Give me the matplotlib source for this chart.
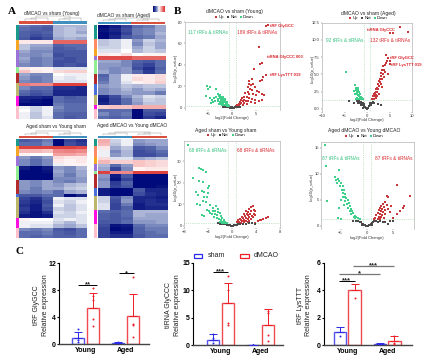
import matplotlib
matplotlib.use('Agg')
import matplotlib.pyplot as plt
import numpy as np
from matplotlib.colors import LinearSegmentedColormap, ListedColormap
from matplotlib.patches import Rectangle

plt.rcParams['font.family'] = ['Liberation Sans', 'DejaVu Sans']

W, H = 440, 360

# ---- heatmaps: rows of six samples, side blocks as (colour, row count)
TEAL, ORANGE, PURPLE, LGREEN = '#1a9a8a', '#f5a623', '#9b72d8', '#90ee90'
DRED, OLIVE, MAGENTA, PINK = '#b22a2a', '#bdb76b', '#ff10e0', '#ffc0cb'
CORAL, BLUE = '#ff8a65', '#4a6fd8'

hm1_rows = [
    [-.45, -.5, -.55, -.25, -.25, -.25], [-.5, -.55, -.6, -.25, -.2, -.25],
    [-.55, -.6, -.55, -.25, -.2, -.3], [-.55, -.65, -.6, -.25, -.2, -.2],
    [-.6, -.75, -.65, -.3, -.25, -.3],
    [.1, .1, .1, .7, .7, .7], [-.2, -.3, -.3, -.55, -.5, -.5], [-.2, -.35, -.35, -.6, -.55, -.5],
    [-.3, -.4, -.4, -.6, -.6, -.6], [-.35, -.4, -.35, -.65, -.6, -.6], [-.3, -.45, -.4, -.6, -.65, -.6],
    [-.35, -.45, -.4, -.65, -.65, -.6], [-.4, -.45, -.4, -.65, -.6, -.65],
    [.1, .05, .05, -.1, -.1, -.1], [.25, .1, .05, .15, .2, .2],
    [-.3, -.4, -.4, 0, -.05, -.05], [-.35, -.45, -.4, -.05, -.1, -.05], [-.4, -.45, -.4, -.1, -.1, -.1],
    [.6, .5, .5, .9, .9, .9], [-.4, -.5, -.5, -.8, -.8, -.85],
    [-.5, -.6, -.55, -.85, -.85, -.85], [-.55, -.65, -.6, -.85, -.85, -.85],
    [-.85, -.85, -.9, -.5, -.6, -.55], [-.9, -.95, -1, -.5, -.55, -.55], [-1, -1, -1, -.45, -.5, -.5],
    [-.05, -.15, -.05, -.4, -.5, -.5], [0, -.15, -.05, -.45, -.5, -.5],
    [-.05, -.2, -.05, -.5, -.55, -.55], [-.05, -.2, -.1, -.5, -.6, -.55],
]
hm1_side = [(TEAL, 5), (ORANGE, 3), (PURPLE, 5), (LGREEN, 2), (DRED, 3), (OLIVE, 4), (MAGENTA, 3), (PINK, 4)]

hm2_rows = [
    [-1, -.9, -.7, -.5, -.45, -.3], [-.95, -.85, -.65, -.45, -.4, -.3],
    [-1, -.9, -.7, -.45, -.4, -.25], [-1, -.85, -.6, -.5, -.45, -.3],
    [-.2, -.15, -.05, -.35, -.15, -.25], [-.2, -.15, -.05, -.4, -.2, -.3], [-.15, -.15, -.05, -.3, -.15, -.3],
    [-.1, -.1, 0, -.25, -.15, -.2], [.1, .05, .15, 0, .05, .05],
    [.85, .85, .85, .7, .7, .7],
    [-.3, -.3, -.4, -.55, -.6, -.5], [-.35, -.35, -.4, -.6, -.7, -.5],
    [-.35, -.4, -.35, -.65, -.8, -.55], [-.3, -.4, -.35, -.5, -.75, -.5],
    [-.55, -.3, -.05, .1, .1, .15], [-.5, -.3, -.05, .15, .1, .15], [-.45, -.3, -.1, .05, .1, .2],
    [-.35, -.3, -.2, -.25, -.2, -.2], [-.4, -.35, -.25, -.35, -.25, -.3], [-.4, -.35, -.3, -.35, -.35, -.45],
    [-.85, -.65, -.4, -.25, -.1, -.15], [-.9, -.7, -.5, -.3, -.15, -.2], [-.85, -.7, -.5, -.35, -.2, -.2],
    [.2, .25, .25, .35, .35, .35],
    [-.5, -.5, -.5, -1, -.6, -.6], [-.4, -.5, -.45, -1, -.65, -.7], [-.5, -.55, -.5, -1, -.75, -.85],
]
hm2_side = [(TEAL, 4), (CORAL, 3), (ORANGE, 2), (PURPLE, 1), (LGREEN, 4), (DRED, 3), (BLUE, 3), (OLIVE, 3), (MAGENTA, 1), (PINK, 3)]

hm3_rows = [
    [-.6, -.55, -.45, -1, -.7, -.8], [-.5, -.5, -.4, -1, -.65, -.75],
    [.9, .9, .9, .9, .9, .85], [.3, .3, .25, .5, .55, .5], [.05, 0, 0, .4, .4, .35],
    [-.35, -.45, -.35, .15, .1, .1], [-.4, -.5, -.4, .1, .05, .1], [-.4, -.5, -.4, -.05, .05, .05],
    [-.9, -1, -.9, -.35, -.4, -.25], [-1, -1, -.95, -.3, -.4, -.3],
    [-1, -1, -1, -.35, -.45, -.3], [-1, -1, -1, -.4, -.4, -.35],
    [-.35, -.4, -.3, -.4, -.45, -.35], [-.35, -.4, -.3, -.35, -.25, -.2],
    [-.35, -.45, -.3, -.3, -.2, -.15], [-.4, -.45, -.4, -.5, -.3, -.25],
    [-.6, -.6, -.5, -.5, -1, -.85],
    [-.7, -.8, -.6, -.05, -.1, -.1], [-.75, -.85, -.65, -.1, -.15, -.05], [-.8, -.9, -.6, -.05, -.2, -.1],
    [-.75, -.9, -.65, -.15, -.2, -.1], [-.8, -.95, -.8, -.1, -.15, -.05], [-.9, -.95, -.9, -.15, -.15, -.1],
    [.05, 0, 0, -.1, -.05, -.1], [-.05, -.05, -.05, -.15, -.25, -.1], [-.05, -.1, -.1, -.25, -.3, -.2],
    [-.4, -.45, -.4, -.6, -.65, -.5], [-.5, -.5, -.45, -.55, -.6, -.5], [-.5, -.55, -.5, -.55, -.55, -.5],
]
hm3_side = [(TEAL, 2), (ORANGE, 3), (PURPLE, 3), (LGREEN, 4), (DRED, 4), (BLUE, 1), (OLIVE, 6), (MAGENTA, 3), (PINK, 3)]

hm4_rows = [
    [.35, -.15, -.05, -.35, -.3, -.3], [.3, -.2, -.05, -.4, -.35, -.3],
    [.1, -.3, -.2, -.6, -.55, -.4], [-.05, -.4, -.25, -.65, -.6, -.5], [-.05, -.35, -.25, -.65, -.65, -.55],
    [.15, -.1, -.1, -.3, -.25, -.2], [.3, .2, .2, .25, .2, .15],
    [-.25, -.5, -.35, .25, .2, .15], [-.3, -.7, -.4, .05, .1, .1],
    [.9, .5, .5, .9, .9, .9],
    [-.35, -.9, -.6, -1, -1, -1], [-.4, -.95, -.7, -1, -1, -1],
    [-.35, -.75, -.55, -1, -1, -1], [-.35, -.7, -.6, -1, -1, -.95],
    [-.9, -1, -1, -.6, -.85, -.85], [-.9, -1, -1, -.65, -.8, -.85],
    [-.15, -.6, -.4, -.85, -.85, -.9], [-.15, -.65, -.35, -.85, -.8, -.85],
    [-.1, -.7, -.45, -.9, -.8, -.8], [-.1, -.7, -.55, -.9, -.85, -.85],
    [-.5, -.55, -.5, -.25, -.25, -.25], [-.55, -.6, -.5, -.25, -.3, -.3],
    [-.55, -.6, -.55, -.3, -.3, -.3], [-.6, -.6, -.5, -.35, -.35, -.3],
    [-.65, -.95, -.9, -.5, -.4, -.4], [-.7, -1, -.95, -.55, -.45, -.45],
    [-.7, -.9, -.9, -.55, -.5, -.45], [-.7, -.8, -.8, -.6, -.5, -.5],
]
hm4_side = [(TEAL, 2), (CORAL, 3), (ORANGE, 2), (PURPLE, 2), (LGREEN, 1), (DRED, 4), (BLUE, 2), (OLIVE, 4), (MAGENTA, 4), (PINK, 4)]

# ---- volcano plots: (log2 fold change, -log10 p)
v1_down = [(-5.3, 20), (-5.1, 17.5), (-4.6, 19), (-3.5, 17.5), (-5.4, 10.6), (-4.7, 9), (-4.3, 7.5), (-3.9, 9.5),
           (-4.1, 5.5), (-3.6, 6.5), (-3.3, 10), (-4.5, 4.5), (-3, 12.5), (-2.9, 8), (-2.7, 11.5), (-2.8, 4),
           (-2.5, 12), (-2.6, 9), (-2.4, 7), (-2.3, 10.5), (-2.2, 5.5), (-2.4, 3.5), (-2.1, 9), (-2, 7.5),
           (-1.9, 6.5), (-2.2, 3), (-1.8, 8.5), (-1.7, 5.5), (-1.9, 4), (-1.6, 7), (-1.5, 6), (-1.7, 3),
           (-1.4, 5), (-1.3, 4.5), (-1.5, 2.5), (-1.2, 4), (-1.1, 3.5), (-1.3, 2.2), (-1, 3), (-.9, 2.5),
           (-1.1, 1.8), (-.8, 2), (-.7, 1.6), (-2, 10), (-1.6, 8.5), (-1.2, 5.8), (-2.5, 5), (-3, 6.5)]
v1_up = [(7, 76.5), (7.4, 77), (5.6, 57), (6.3, 41.7), (5.8, 41), (4.5, 36.4), (7, 30.8), (6.5, 28.6), (6.2, 26),
         (5.8, 24.6), (4.1, 26.8), (3.6, 25), (3.2, 19), (3.5, 22), (4, 21), (4.3, 22), (3.7, 18), (4.2, 17),
         (4.8, 19), (5.2, 16), (5.6, 15), (6.2, 13), (6.6, 12), (3.2, 15), (3.6, 13), (4.3, 13), (5, 12),
         (2.7, 14), (2.4, 10), (3, 10), (3.5, 9), (4.1, 8), (4.8, 7), (5.5, 6.5), (6.2, 7), (3.3, 6), (4, 5),
         (4.8, 4.5), (2.1, 9), (2.5, 7), (2.9, 6.5), (1.8, 7.5), (2.2, 6), (1.6, 5.5), (1.9, 4.5), (2.5, 4.5),
         (1.4, 4), (1.7, 3.2), (2.2, 3), (1.2, 3), (1.5, 2.5), (1, 2.3), (1.3, 2), (.9, 1.8), (.7, 1.5), (3, 4)]
v1_not = [(-2, 1.2), (-1.7, 1), (-1.5, 1.1), (-1.2, .9), (-1, .7), (-.8, .6), (-.6, .5), (-.4, .3), (-.2, .2), (0, .1),
          (.2, .2), (.4, .3), (.6, .6), (.8, .7), (1, .9), (1.3, 1), (1.6, 1.1), (-.5, .8), (.5, .8), (-.1, .4), (.1, .3)]

v2_down = [(-4.6, 5.3), (-2.7, 3.4), (-2.4, 3.1), (-2.5, 2.8), (-2.1, 3), (-2.3, 2.5), (-2.6, 2.2), (-2.2, 2.2),
           (-1.9, 2.7), (-2, 2), (-1.7, 2.4), (-1.8, 1.8), (-1.5, 2.1), (-1.6, 1.6), (-2.2, 1.6), (-1.4, 1.7),
           (-1.3, 1.4), (-1.1, 1.6), (-1.5, 1.4), (-1.9, 1.4), (-2.5, 1.5), (-1, 1.4), (-2.8, 2.6)]
v2_up = [(7.3, 11.9), (9.1, 11.2), (5, 11), (5.8, 11), (4.3, 7.8), (4.7, 7.4), (4.4, 7), (5, 7), (3.5, 6.2), (4.7, 5),
         (5.2, 6.5), (4.2, 6.6), (3.9, 6.3), (3.8, 5.7), (3.4, 5.6), (3.6, 5), (3.2, 5.2), (3, 4.8), (3.3, 4.4),
         (2.8, 4.4), (2.9, 3.9), (2.6, 4), (2.4, 3.6), (2.7, 3.3), (2.3, 3.1), (2.5, 2.9), (2.1, 2.9), (2, 2.5),
         (2.3, 2.4), (1.8, 2.3), (1.9, 2), (1.6, 2.1), (1.7, 1.8), (1.4, 1.8), (1.5, 1.5), (1.2, 1.5), (2.1, 1.6),
         (1, 1.4), (3.7, 4.6), (4.1, 5.4), (3.1, 3.6), (2.2, 1.9), (2.6, 2.2), (3.4, 3.2)]
v2_not = [(-3.9, 1.1), (-2.8, .9), (-2.3, 1.1), (-2, .9), (-1.8, 1.1), (-1.6, .8), (-1.4, 1), (-1.2, .7), (-1, .9), (-.9, .5),
          (-.7, .4), (-.5, .3), (-.3, .15), (-.1, .05), (.1, .05), (.3, .15), (.5, .35), (.7, .5), (.9, .6), (1.1, .8),
          (1.3, 1), (1.6, .9), (-1.4, .5), (-1, .2), (-.6, .7), (.6, .9), (2.4, .7), (3.2, .6)]

v3_down = [(-7.3, 37.7), (-5.5, 26.9), (-5.2, 26.6), (-4.8, 26), (-4.4, 24.9), (-6.5, 22.3), (-5.5, 21), (-4.8, 20.5),
           (-3.9, 18.6), (-4, 17.5), (-6, 15.8), (-5, 16.3), (-4.7, 15.8), (-4, 15.4), (-5.7, 14.5), (-4.7, 13.5),
           (-4.2, 13.5), (-5.8, 10.3), (-5.4, 9.5), (-4.3, 11), (-4.8, 11.5), (-3.7, 9.5), (-2.6, 9.3), (-3.2, 8.5),
           (-2.4, 7.8), (-4.1, 7.5), (-3.8, 7), (-3.2, 7), (-2.9, 6.8), (-2.3, 6.5), (-5, 5), (-4.7, 4.5), (-3.6, 5.8),
           (-3.3, 5.3), (-2.8, 5.5), (-2.5, 5), (-2, 5.8), (-3, 4.2), (-2.5, 3.8), (-1.9, 4.5), (-2.2, 3), (-1.6, 3.5),
           (-1.9, 2.5), (-1.4, 2.8), (-1.7, 2), (-2, 1.9), (-1.3, 2.2), (-1.5, 1.7), (-1.1, 1.9), (-1.4, 1.4),
           (-1.7, 1.4), (-1, 1.5), (-.9, 1.4)]
v3_up = [(3.5, 9.2), (3.2, 8.7), (3.6, 7.6), (2.9, 7.7), (3.8, 6.8), (3.2, 6.7), (2.6, 6.6), (2.3, 7), (3.6, 5.7),
         (3, 5.7), (2.5, 5.7), (2, 5.6), (3.9, 5), (3.3, 4.8), (2.7, 4.9), (2.1, 4.6), (1.6, 4.3), (3.5, 3.9),
         (2.9, 4), (2.3, 3.7), (1.8, 3.5), (1.3, 3.4), (3.2, 3), (2.6, 3), (2, 2.9), (1.5, 2.8), (1, 2.6),
         (2.9, 2.2), (2.3, 2.2), (1.7, 2.1), (1.2, 2), (.8, 1.8), (2.6, 1.6), (2, 1.6), (1.5, 1.5), (1, 1.5),
         (6, 4.3), (5.7, 3.5), (4.7, 2.5), (4.3, 2.2), (3.9, 1.5), (5.2, 3), (4.9, 2.7)]
v3_not = [(-2.4, 1.1), (-2, .9), (-1.6, 1), (-1.3, .8), (-1, .9), (-.8, .5), (-.6, .3), (-.4, .2), (-.2, .1), (0, .05),
          (.2, .1), (.4, .2), (.6, .4), (.8, .6), (1, .8), (1.4, 1), (1.8, .9), (2.3, 1), (2.8, 1.1), (3.4, 1.1), (3.9, .9)]

v4_down = [(-8, 15.6), (-7.8, 11.5), (-5.2, 10.7), (-6, 9.5), (-5.8, 8.9), (-5.5, 9.1), (-5.2, 8.7), (-5.6, 8.3), (-4.9, 8.2),
           (-5.1, 7.7), (-4.6, 7.6), (-4.8, 7), (-4.4, 6.9), (-4.5, 6.3), (-4.1, 6.2), (-4.6, 5.5), (-4.2, 5.6),
           (-3.9, 5.3), (-5, 5), (-4.1, 4.7), (-3.6, 4.9), (-3.8, 4.2), (-3.4, 4.4), (-4.4, 4.1), (-3.2, 3.9),
           (-3.6, 3.4), (-3, 3.3), (-3.3, 2.9), (-2.8, 2.8), (-2.6, 2.4), (-3, 2.2), (-2.3, 1.9), (-2.5, 1.7),
           (-2, 1.8), (-2.2, 1.5), (-1.7, 1.5), (-1.4, 1.4), (-7.6, 4.7), (-5.2, 3.5), (-5.4, 1.5), (-5, 1.4)]
v4_up = [(5.7, 7.8), (3.8, 5.8), (4, 5.5), (8.2, 5.7), (7.1, 3.9), (6.8, 3.5), (6.2, 2.8), (5.6, 2.2), (4.9, 1.5),
         (3.4, 4.5), (3, 4.3), (3.7, 4), (2.7, 3.9), (4.5, 3.8), (3.2, 3.6), (2.4, 3.5), (4, 3.3), (2.9, 3.2),
         (3.5, 3), (2.2, 3), (2.6, 2.8), (3.1, 2.6), (4.4, 2.7), (2, 2.5), (2.4, 2.2), (2.9, 2.1), (3.4, 2.2),
         (1.8, 2), (2.2, 1.8), (2.7, 1.7), (1.6, 1.6), (2, 1.4), (1.3, 1.4), (3.2, 1.5), (2.5, 1.4)]
v4_not = [(-2.6, 1), (-2.1, .9), (-1.7, 1), (-1.4, .7), (-1.1, .8), (-.9, .45), (-.7, .3), (-.5, .2), (-.3, .1), (-.1, .05),
          (.1, .05), (.3, .1), (.5, .2), (.7, .35), (.9, .5), (1.1, .7), (1.4, .9), (1.7, 1), (2.1, .8), (2.5, .9), (3, .7),
          (3.5, .8), (4, .4), (4.4, .9), (-1, .2), (1, .2), (5, 1)]

# ---- bar charts (panel C)
groups = ['Young', 'Aged']

c1_sham, c1_sham_top = [0.95, 0.2], [1.8, 0.3]
c1_dmcao, c1_dmcao_top = [5.35, 4.2], [7.6, 7.5]
c1_sham_pts = [[2.3, 1.0, 0.7, 0.4], [0.3, 0.25, 0.2, 0.15]]
c1_dmcao_pts = [[8.3, 7.2, 6.5, 3.8, 2.7], [9.9, 3.0, 2.8, 1.1]]

c2_sham, c2_sham_top = [1.0, 0.05], [2.0, 0.12]
c2_dmcao, c2_dmcao_top = [7.6, 3.7], [11.4, 6.6]
c2_sham_pts = [[2.0, 1.4, 0.9, 0.4], [0.1, 0.1, 0.05, 0.05]]
c2_dmcao_pts = [[12.6, 10.0, 4.0, 3.7], [6.3, 5.8, 1.8, 0.7]]

c3_sham, c3_sham_top = [1.0, 0.1], [1.35, 0.2]
c3_dmcao, c3_dmcao_top = [4.0, 0.3], [4.45, 0.7]
c3_sham_pts = [[0.65], [0.1, 0.12]]
c3_dmcao_pts = [[3.45], [0.7, 0.1, 0.15]]

RED = '#c8373a'
GREEN = '#3ecf8a'
DARK = '#4a4a4a'
SHAM = '#2a2ae8'
DMCAO = '#ee1c25'

heat_cmap = LinearSegmentedColormap.from_list('heat', ['#000a7a', '#5a6cae', '#ffffff', '#f08a8a', '#d9322e'])

fig = plt.figure(figsize=(W / 100, H / 100), dpi=100)


def px_axes(x0, y0, x1, y1, **kw):
    # axes from pixel edges, y counted from the top of the image
    return fig.add_axes([x0 / W, 1 - y1 / H, (x1 - x0) / W, (y1 - y0) / H], **kw)


# overlay in pixel coordinates for the free texts and decoration
over = px_axes(0, 0, W, H)
over.set_xlim(0, W)
over.set_ylim(H, 0)
over.axis('off')
over.set_zorder(5)


def draw_dendro(x0, x1, y_base, tall):
    w = (x1 - x0) / 6
    leaf = [x0 + (i + .5) * w for i in range(6)]
    h1, h2 = tall * .35, tall * .6
    for a, b in [(0, 3), (3, 6)]:
        l1, l2, l3 = leaf[a:b]
        mid = (l1 + l2) / 2
        over.plot([l1, l1, l2, l2], [y_base, y_base - h1, y_base - h1, y_base], color='#999999', lw=.35)
        over.plot([mid, mid, l3, l3], [y_base - h1, y_base - h2, y_base - h2, y_base], color='#999999', lw=.35)
    m1, m2 = (leaf[0] + leaf[2]) / 2, (leaf[3] + leaf[5]) / 2
    over.plot([m1, m1, m2, m2], [y_base - h2, y_base - tall, y_base - tall, y_base - h2], color='#999999', lw=.35)


def draw_heatmap(rows, side, box, side_x, left_col, right_col, title, title_xy, tall):
    x0, y0, x1, y1 = box
    ax = px_axes(x0, y0, x1, y1)
    ax.imshow(np.array(rows), cmap=heat_cmap, vmin=-1, vmax=1, aspect='auto', interpolation='nearest')
    ax.axis('off')

    names = [c for c, n in side]
    counts = [n for c, n in side]
    idx = np.repeat(np.arange(len(names)), counts).reshape(-1, 1)
    ax_s = px_axes(side_x[0], y0, side_x[1], y1)
    ax_s.imshow(idx, cmap=ListedColormap(names), aspect='auto', interpolation='nearest')
    ax_s.axis('off')

    mid = (x0 + x1) / 2
    over.add_patch(Rectangle((x0, y0 - 3.5), mid - x0, 2.8, color=left_col, lw=0))
    over.add_patch(Rectangle((mid, y0 - 3.5), x1 - mid, 2.8, color=right_col, lw=0))
    draw_dendro(x0, x1, y0 - 3.8, tall)
    over.text(title_xy[0], title_xy[1], title, fontsize=3.5, ha='center', va='center', color='#222222')


HRED, HBLUE = '#d9503f', '#3f8fbf'
draw_heatmap(hm1_rows, hm1_side, (19.3, 24.5, 87, 119), (16, 18.7), HRED, HBLUE,
             'dMCAO vs sham (Young)', (51.5, 13.5), 5)
draw_heatmap(hm2_rows, hm2_side, (97.7, 25, 165, 119), (94.3, 97), HBLUE, HRED,
             'dMCAO vs sham (Aged)', (124, 15), 3)
draw_heatmap(hm3_rows, hm3_side, (19.3, 139, 87, 238), (16, 18.7), HRED, HBLUE,
             'Aged sham vs Young sham', (56, 126.5), 4.2)
draw_heatmap(hm4_rows, hm4_side, (97.7, 139, 167, 238), (94.3, 97), HBLUE, HRED,
             'Aged dMCAO vs Young dMCAO', (132, 126), 3.5)

# small colour key above the second heatmap
ax_key = px_axes(153, 6, 165, 12)
ax_key.imshow(np.linspace(-1, 1, 24).reshape(1, -1), cmap=heat_cmap, aspect='auto')
ax_key.axis('off')


def draw_volcano(box, xlim, ylim, xticks, yticks, ylabels, vline, down, up, nots, title, title_xy,
                 legend_xy, n_text, xlabel_y):
    x0, y0, x1, y1 = box
    ax = px_axes(x0, y0, x1, y1)
    ax.set_xlim(xlim)
    ax.set_ylim(ylim)
    for pts, col, name in [(up, RED, 'Up'), (nots, DARK, 'Not'), (down, GREEN, 'Down')]:
        arr = np.array(pts)
        ax.scatter(arr[:, 0], arr[:, 1], s=1.3, color=col, marker='s', linewidths=0, label=name, zorder=3)
    for v in (-vline, vline):
        ax.axvline(v, color='#8fd19e', lw=.5, ls=':')
    ax.axhline(1.3, color='#8fd19e', lw=.5, ls=':')
    ax.set_xticks(xticks)
    ax.set_yticks(yticks)
    ax.set_yticklabels(ylabels)
    ax.tick_params(labelsize=3.0, length=1, width=.3, pad=.6, colors='#333333')
    ax.spines['bottom'].set_visible(False)
    for s in ('left', 'top', 'right'):
        ax.spines[s].set_color('#b5b5b5')
        ax.spines[s].set_linewidth(.5)
    over.text(title_xy[0], title_xy[1], title, fontsize=3.6, ha='center', va='center', color='#222222')
    # legend placed by pixel, converted to axes fraction
    lx = (legend_xy[0] - x0) / (x1 - x0)
    ly = (y1 - legend_xy[1]) / (y1 - y0)
    ax.legend(loc='center', bbox_to_anchor=(lx, ly), ncols=3, frameon=False, fontsize=3, markerscale=1,
              handletextpad=0, columnspacing=.5, borderpad=0, handlelength=1)
    cx = x0 + (0 - xlim[0]) / (xlim[1] - xlim[0]) * (x1 - x0)
    over.text(cx, xlabel_y, 'log2(Fold Change)', fontsize=3, ha='center', va='center', color='#333333')
    over.text(x0 - 8.5 if x0 < 300 else x0 - 9.5, (y0 + y1) / 2 + 2, '-log10(p_value)', fontsize=3, rotation=90,
              ha='center', va='center', color='#333333')
    for s, x, y, col in n_text:
        over.text(x, y, s, fontsize=3.4, ha='left', va='center', color=col)
    return ax


LABEL_RED = '#d8262c'
LABEL_GREEN = '#33c07e'
draw_volcano((184.5, 22, 280, 110), (-10, 10), (-2, 80), [-5, 0, 5], [0, 20, 40, 60, 80],
             ['0', '20', '40', '60', '80'], .7, v1_down, v1_up, v1_not,
             'dMCAO vs sham (Young)', (234, 12), (234, 17),
             [('117 tRFs & tiRNAs', 188, 33, LABEL_GREEN), ('189 tRFs & tiRNAs', 237, 33, LABEL_RED)], 118.5)
draw_volcano((322, 22.7, 412, 112), (-10, 10), (-.45, 12.5), [-10, -5, 0, 5, 10], [0, 2.5, 5, 7.5, 10, 12.5],
             ['0.0', '2.5', '5.0', '7.5', '10.0', '12.5'], .7, v2_down, v2_up, v2_not,
             'dMCAO vs sham (Aged)', (368, 13.3), (368, 17.7),
             [('92 tRFs & tiRNAs', 326, 40, LABEL_GREEN), ('132 tRFs & tiRNAs', 370, 40, LABEL_RED)], 120)
draw_volcano((184, 141, 280, 228), (-8, 8), (-1, 39.5), [-8, -4, 0, 4, 8], [0, 10, 20, 30],
             ['0', '10', '20', '30'], .6, v3_down, v3_up, v3_not,
             'Aged sham vs Young sham', (225.7, 130.7), (225.7, 135.5),
             [('68 tRFs & tiRNAs', 189, 150.7, LABEL_GREEN), ('68 tRFs & tiRNAs', 237, 150.7, LABEL_RED)], 237)
draw_volcano((321, 141.7, 414, 229), (-8.7, 8.9), (-.6, 16.2), [-5, 0, 5], [0, 5, 10, 15],
             ['0', '5', '10', '15'], .8, v4_down, v4_up, v4_not,
             'Aged dMCAO vs Young dMCAO', (364, 130.7), (364, 136),
             [('87 tRFs & tiRNAs', 322, 158, LABEL_GREEN), ('87 tRFs & tiRNAs', 375, 158, LABEL_RED)], 237.5)

# red gene labels on the volcano plots
for s, x, y in [('tRF GlyGCC', 270, 25.7), ('tiRNA GlyCCC 003', 267, 57), ('tRF LysTTT 019', 270, 75),
                ('tiRNA GlyCCC', 367, 30), ('tRF GlyGCC', 390, 58), ('tRF LysTTT 019', 391, 65)]:
    over.text(x, y, s, fontsize=3.0, ha='left', va='center', color=LABEL_RED, fontweight='bold')


def draw_bars(box, ylim, yticks, xlim, gap, sham, sham_top, dmcao, dmcao_top, sham_pts, dmcao_pts, name, label_x, sig):
    x0, y0, x1, y1 = box
    ax = px_axes(x0, y0, x1, y1)
    ax.set_xlim(xlim)
    ax.set_ylim(ylim)
    pos = np.array([0, gap])
    width = .85
    for off, vals, tops, pts, col in [(-.5, sham, sham_top, sham_pts, SHAM), (.5, dmcao, dmcao_top, dmcao_pts, DMCAO)]:
        xs = pos + off
        ax.bar(xs, vals, width=width, facecolor='white', edgecolor=col, linewidth=1.0, alpha=.8, zorder=2)
        ax.errorbar(xs, vals, yerr=[np.zeros(2), np.array(tops) - np.array(vals)], fmt='none', ecolor=col,
                    elinewidth=.7, capsize=2.6, capthick=.7, zorder=3)
        for x, p in zip(xs, pts):
            ax.scatter([x] * len(p), p, s=2, color=col, linewidths=0, zorder=4)
    for a, b, y, stars, col in sig:
        ax.plot([a, b], [y, y], color=col, lw=.9 if col != 'black' else .7, solid_capstyle='butt', zorder=4, clip_on=False)
        ax.text((a + b) / 2, y, stars, fontsize=5.5, ha='center', va='center', color='#222222', fontweight='bold',
                zorder=5, clip_on=False)
    ax.set_xticks(pos)
    ax.set_xticklabels(groups, fontsize=5, fontweight='bold')
    ax.set_yticks(yticks)
    ax.tick_params(axis='y', labelsize=5, length=1.5, width=.8, pad=.8)
    ax.tick_params(axis='x', length=0, pad=2)
    for t in ax.get_yticklabels():
        t.set_fontweight('bold')
    for s in ('top', 'right'):
        ax.spines[s].set_visible(False)
    ax.spines['left'].set_linewidth(.8)
    ax.spines['bottom'].set_linewidth(1.0)
    ax.spines['bottom'].set_color('#444444')
    ymid = (y0 + y1) / 2 + 1
    over.text(label_x, ymid, name, fontsize=5, rotation=90, ha='center', va='center', color='#222222')
    over.text(label_x + 8.7, ymid, 'Relative expression', fontsize=5, rotation=90, ha='center', va='center', color='#222222')
    return ax


draw_bars((59.3, 263.3, 149, 344.3), (0, 12), [0, 4, 8, 12], (-1.78, 4.32), 2.72,
          c1_sham, c1_sham_top, c1_dmcao, c1_dmcao_top, c1_sham_pts, c1_dmcao_pts, 'tRF GlyGCC', 37,
          [(-.5, .8, 8.8, '**', 'black'), (2.3, 3.3, 10.5, '*', 'black')])
draw_bars((193.3, 262.7, 283, 345.3), (0, 15), [0, 5, 10, 15], (-1.85, 4.25), 2.72,
          c2_sham, c2_sham_top, c2_dmcao, c2_dmcao_top, c2_sham_pts, c2_dmcao_pts, 'tiRNA GlyCCC', 169,
          [(-.5, .5, 13.4, '***', 'black')])
draw_bars((324, 262.7, 411.7, 345.3), (0, 6), [0, 2, 4, 6], (-1.6, 4.4), 2.72,
          c3_sham, c3_sham_top, c3_dmcao, c3_dmcao_top, c3_sham_pts, c3_dmcao_pts, 'tRF LysTTT', 300,
          [(-.6, .5, 4.67, '***', 'black'), (-.6, 2.2, 5.18, '*', '#777777'), (.4, 3.2, 5.76, '***', '#777777')])

# shared legend for panel C
over.add_patch(Rectangle((193.5, 253.5), 8.5, 4, facecolor='white', edgecolor=SHAM, lw=.9))
over.text(207.7, 255.7, 'sham', fontsize=5, ha='left', va='center', color='#222222')
over.add_patch(Rectangle((239.5, 253.5), 9, 4, facecolor='white', edgecolor=DMCAO, lw=.9))
over.text(254, 255.7, 'dMCAO', fontsize=5, ha='left', va='center', color='#222222')

# panel letters
for s, x, y in [('A', 12, 12), ('B', 177, 11.5), ('C', 19.5, 252)]:
    over.text(x, y, s, fontsize=8, family=['Liberation Serif'], fontweight='bold', ha='center', va='center')

fig.savefig('out.png', dpi=100)
plt.close(fig)
